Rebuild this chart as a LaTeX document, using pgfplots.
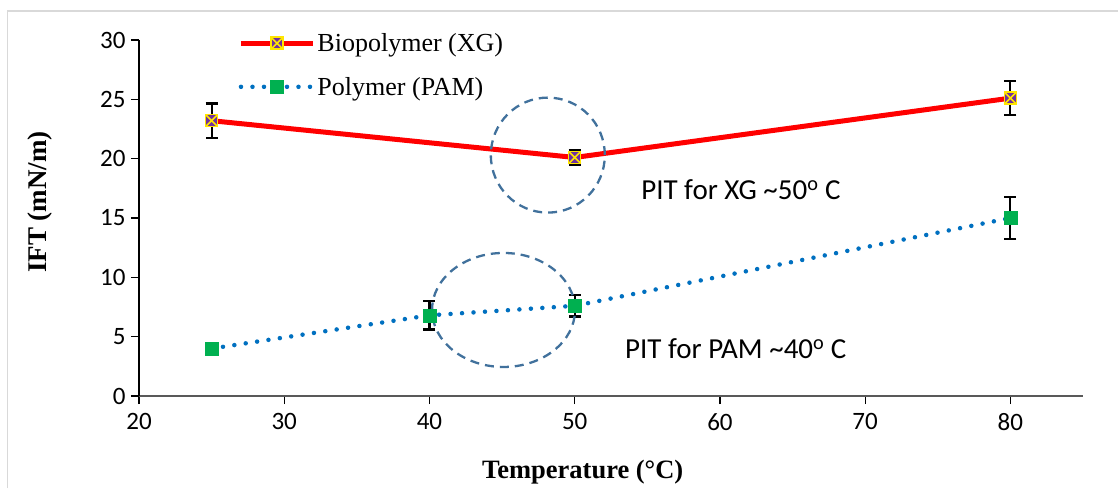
\documentclass[border=0pt]{standalone}
\usepackage{fontspec}
\setmainfont{Liberation Serif}
\newfontfamily\carlito{Carlito}
\usepackage{pgfplots}
\pgfplotsset{compat=1.18}
\definecolor{xgred}{RGB}{255,0,0}
\definecolor{xgpurple}{RGB}{112,48,160}
\definecolor{xgyellow}{RGB}{255,230,0}
\definecolor{pamblue}{RGB}{0,112,192}
\definecolor{pamgreen}{RGB}{0,176,80}
\definecolor{ellcol}{RGB}{65,113,156}
\definecolor{framegray}{RGB}{217,217,217}
\pgfdeclareplotmark{sqx}{%
  \pgfpathrectangle{\pgfpoint{-\pgfplotmarksize}{-\pgfplotmarksize}}{\pgfpoint{2\pgfplotmarksize}{2\pgfplotmarksize}}%
  \pgfsetfillcolor{xgpurple}\pgfusepath{fill}%
  \pgfsetstrokecolor{xgyellow}\pgfsetlinewidth{1.6pt}%
  \pgfpathrectangle{\pgfpoint{-\pgfplotmarksize}{-\pgfplotmarksize}}{\pgfpoint{2\pgfplotmarksize}{2\pgfplotmarksize}}%
  \pgfusepath{stroke}%
  \pgfpathmoveto{\pgfpoint{-\pgfplotmarksize}{-\pgfplotmarksize}}%
  \pgfpathlineto{\pgfpoint{\pgfplotmarksize}{\pgfplotmarksize}}%
  \pgfpathmoveto{\pgfpoint{-\pgfplotmarksize}{\pgfplotmarksize}}%
  \pgfpathlineto{\pgfpoint{\pgfplotmarksize}{-\pgfplotmarksize}}%
  \pgfusepath{stroke}%
}
\begin{document}
\begin{tikzpicture}[x=1pt,y=1pt]
\useasboundingbox (0,0) rectangle (1118,488);
\draw[framegray, line width=1.5pt] (7.5,0) -- (7.5,477) -- (1118,477);
\begin{axis}[
  at={(139pt,92pt)}, anchor=south west,
  scale only axis, width=944pt, height=356pt,
  xmin=20, xmax=85, ymin=0, ymax=30,
  axis x line=bottom, axis y line=left,
  axis line style={-},
  x axis line style={draw=black!65, line width=1.8pt},
  y axis line style={draw=black, line width=1.2pt},
  xtick={20,30,...,80}, ytick={0,5,...,30},
  tick align=outside, major tick length=8pt,
  tick style={black, line width=1.2pt},
  /pgf/number format/assume math mode=true,
  tick label style={font=\carlito\fontsize{25}{30}\selectfont},
  xticklabel style={yshift=-6pt},
  yticklabel style={xshift=-2pt},
  xlabel={\textbf{Temperature (°C)}},
  ylabel={\textbf{IFT (mN/m)}},
  every axis x label/.style={at={(axis description cs:0.47,-0.213)}, anchor=center, font=\fontsize{26.5}{30}\selectfont},
  every axis y label/.style={at={(axis description cs:-0.105,0.545)}, rotate=90, anchor=center, font=\fontsize{27}{30}\selectfont},
  clip=false,
  legend style={at={(axis description cs:0.102,1.03)}, anchor=north west, draw=none, fill=none,
    font=\fontsize{26}{30}\selectfont, row sep=20pt, cells={anchor=west}},
  legend image code/.code={\draw[mark repeat=2,mark phase=2,#1] plot coordinates {(0pt,0pt) (36pt,0pt) (72pt,0pt)};},
]
% error bars (drawn first, beneath markers)
\addplot[forget plot, draw=none, mark=none,
  error bars/.cd, y dir=both, y explicit,
  error bar style={draw=black, line width=2.2pt, solid},
  error mark options={draw=black, rotate=90, mark size=6pt, line width=2.2pt, solid}]
  coordinates {(25,23.2) +- (0,1.45) (50,20.1) +- (0,0.65) (80,25.1) +- (0,1.45)
               (40,6.8) +- (0,1.2) (50,7.6) +- (0,0.9) (80,15.0) +- (0,1.8)};
\addplot[xgred, line width=5pt, mark=sqx, mark size=6pt]
  coordinates {(25,23.2) (50,20.1) (80,25.1)};
\addlegendentry{Biopolymer (XG)}
\addplot[pamblue, line width=4.5pt, line cap=round, dash pattern=on 0pt off 11.5pt,
  mark=square*, mark size=6.5pt, mark options={solid, fill=pamgreen, draw=pamgreen, line width=0.5pt}]
  coordinates {(25,4.0) (40,6.8) (50,7.6) (80,15.0)};
\addlegendentry{Polymer (PAM)}
\draw[ellcol, line width=2.3pt, dash pattern=on 9pt off 6pt] (axis cs:48.15,20.3) ellipse [x radius=57pt, y radius=57.5pt];
\draw[ellcol, line width=2.3pt, dash pattern=on 9pt off 6pt] (axis cs:45.1,7.25) ellipse [x radius=71.5pt, y radius=57pt];
\node[anchor=west, inner sep=0pt, font=\carlito\fontsize{29}{34}\selectfont] at (axis cs:54.57,17.36) {PIT for XG \textasciitilde50\textsuperscript{o} C};
\node[anchor=west, inner sep=0pt, font=\carlito\fontsize{29}{34}\selectfont] at (axis cs:53.46,3.96) {PIT for PAM \textasciitilde40\textsuperscript{o} C};
\end{axis}
\end{tikzpicture}
\end{document}
